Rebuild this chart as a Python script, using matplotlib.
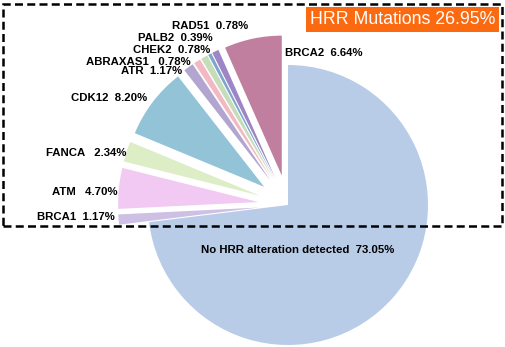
import matplotlib
matplotlib.use("Agg")
import matplotlib.pyplot as plt
from matplotlib.patches import Rectangle

# slice order: big slice first, then clockwise from the left
genes = ["No HRR alteration detected", "BRCA1", "ATM", "FANCA", "CDK12", "ATR",
         "ABRAXAS1", "CHEK2", "PALB2", "RAD51", "BRCA2"]
percent = [73.05, 1.17, 4.70, 2.34, 8.20, 1.17, 0.78, 0.78, 0.39, 0.78, 6.64]
colors = ["#B9CCE7", "#CEBFE4", "#F1C9F2", "#DDEDC6", "#93C3D7", "#B2A6D0",
          "#F2B9C3", "#C6DDB9", "#7FA4CD", "#9E86C6", "#C17F9F"]

# label text and anchor (pixels, y from top)
label_pos = {
    "No HRR alteration detected": (298, 250, "center"),
    "BRCA1": (115, 217, "right"),
    "ATM": (117, 192, "right"),
    "FANCA": (126, 153, "right"),
    "CDK12": (147, 98, "right"),
    "ATR": (182, 71, "right"),
    "ABRAXAS1": (191, 62, "right"),
    "CHEK2": (210, 50, "right"),
    "PALB2": (213, 38, "right"),
    "RAD51": (248, 26, "right"),
    "BRCA2": (285, 53, "left"),
}
label_gap = {"ATM": "   ", "FANCA": "   ", "ABRAXAS1": "   "}

W, H = 505, 347
fig = plt.figure(figsize=(W / 100, H / 100), dpi=100)
ax = fig.add_axes([0, 0, 1, 1])

R = 140
explode = [0] + [30] * (len(percent) - 1)
ax.pie(percent, colors=colors, startangle=90, counterclock=False,
       radius=R, center=(288, H - 205), explode=explode,
       wedgeprops=dict(linewidth=0), frame=True)
ax.set_xlim(0, W)
ax.set_ylim(0, H)
ax.axis("off")

for g, p in zip(genes, percent):
    x, y, ha = label_pos[g]
    gap = label_gap.get(g, "  ")
    ax.text(x, H - y, f"{g}{gap}{p:.2f}%", ha=ha, va="center", fontsize=8.2,
            fontweight="bold", family="Liberation Sans", color="black", zorder=5)

# dashed frame around the HRR slices
ax.add_patch(Rectangle((3, H - 225.5), 499, 222, fill=False, ec="black", lw=1.8,
                       ls=(0, (3.2, 1.7)), zorder=6))

hrr_total = sum(percent[1:])
ax.text(402.5, H - 19.5, f"HRR Mutations {hrr_total:.2f}%", ha="center", va="center",
        fontsize=12.8, color="white", family="Liberation Sans", zorder=7,
        bbox=dict(boxstyle="square,pad=0.22", fc="#FB6A10", ec="none"))

fig.savefig("out.png", dpi=100)
